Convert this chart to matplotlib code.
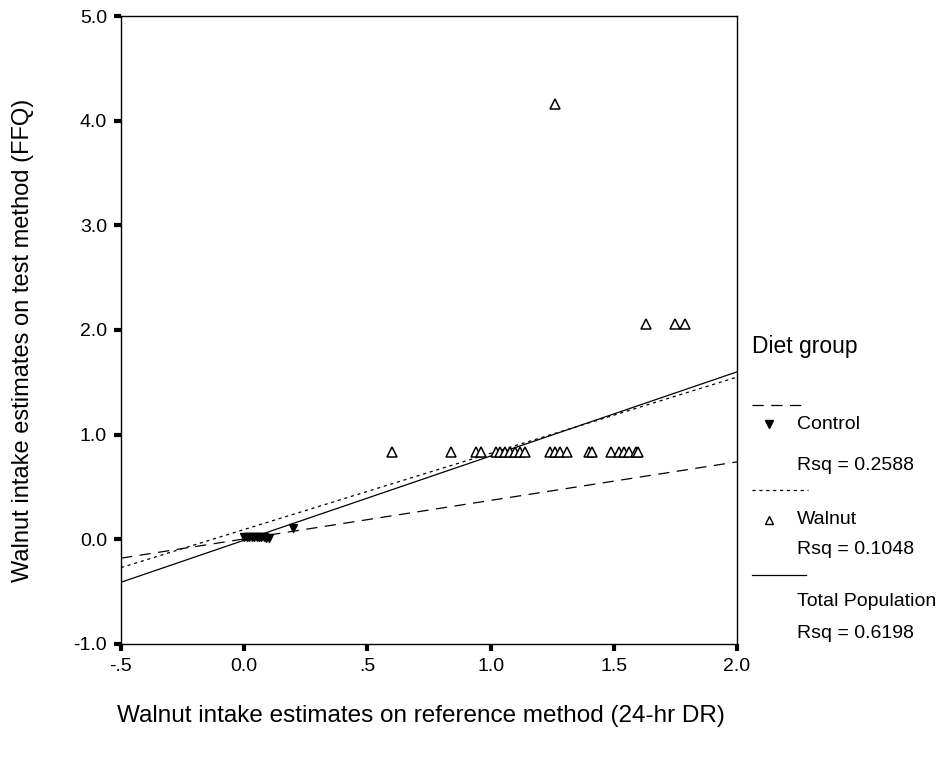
#!/usr/bin/env python3
"""Walnut intake: FFQ vs 24-hr dietary recall, with group fit lines."""

import numpy as np
import matplotlib
matplotlib.use('Agg')
import matplotlib.pyplot as plt
from matplotlib.lines import Line2D

plt.rcParams['font.family'] = ['Liberation Sans', 'DejaVu Sans']

# Control group (24-hr DR, FFQ)
control_x = [0.00, 0.01, 0.02, 0.03, 0.04, 0.05, 0.06, 0.07, 0.08, 0.09, 0.10, 0.20]
control_y = [0.02, 0.02, 0.02, 0.02, 0.02, 0.02, 0.02, 0.02, 0.02, 0.01, 0.01, 0.11]

# Walnut group
walnut_x = [0.60, 0.84, 0.94, 0.96, 1.02, 1.04, 1.06, 1.08, 1.10, 1.12, 1.14,
            1.24, 1.26, 1.28, 1.31, 1.40, 1.41, 1.49, 1.52, 1.54, 1.56, 1.59,
            1.60, 1.26, 1.63, 1.75, 1.79]
walnut_y = [0.83] * 23 + [4.16, 2.06, 2.06, 2.06]

# fitted lines: (intercept, slope)
fit_control = (0.004, 0.368)
fit_walnut = (0.094, 0.728)
fit_total = (-0.008, 0.804)

group_names = ['Control', 'Walnut']
rsq_labels = ['Rsq = 0.2588', 'Rsq = 0.1048', 'Rsq = 0.6198']

xticks = [-0.5, 0.0, 0.5, 1.0, 1.5, 2.0]
xticklabels = ['-.5', '0.0', '.5', '1.0', '1.5', '2.0']
yticks = [-1.0, 0.0, 1.0, 2.0, 3.0, 4.0, 5.0]
yticklabels = ['-1.0', '0.0', '1.0', '2.0', '3.0', '4.0', '5.0']

W, H = 939, 757
fig = plt.figure(figsize=(W / 100, H / 100), dpi=100)
ax = fig.add_axes([121 / W, 1 - 644 / H, (737 - 121) / W, (644 - 16) / H])

dash_long = (0, (9, 6))
dash_dot = (0, (2.5, 3))

xs = np.array([-0.5, 2.0])
ax.plot(xs, fit_control[0] + fit_control[1] * xs, color='black', lw=0.9, ls=dash_long)
ax.plot(xs, fit_walnut[0] + fit_walnut[1] * xs, color='black', lw=0.9, ls=dash_dot)
ax.plot(xs, fit_total[0] + fit_total[1] * xs, color='black', lw=0.9, ls='-')

ax.plot(walnut_x, walnut_y, ls='none', marker='^', ms=7, mfc='white',
        mec='black', mew=1.1)
ax.plot(control_x, control_y, ls='none', marker='v', ms=5.5, mfc='black',
        mec='black')

ax.set_xlim(-0.5, 2.0)
ax.set_ylim(-1.0, 5.0)
ax.set_xticks(xticks)
ax.set_xticklabels(xticklabels)
ax.set_yticks(yticks)
ax.set_yticklabels(yticklabels)
ax.tick_params(direction='out', length=5, width=3, labelsize=14, pad=5)
for s in ax.spines.values():
    s.set_linewidth(1.0)

fig.text(23 / W, 1 - 340 / H, 'Walnut intake estimates on test method (FFQ)',
         rotation=90, ha='center', va='center', fontsize=17)
fig.text(421 / W, 1 - 716 / H, 'Walnut intake estimates on reference method (24-hr DR)',
         ha='center', va='center', fontsize=17.5)


# legend drawn in figure pixel space
def fx(px):
    return px / W


def fy(py):
    return 1 - py / H


fig.text(fx(752), fy(346), 'Diet group', ha='left', va='center', fontsize=16.5)

row_styles = [dash_long, dash_dot]
row_markers = [('v', 'black'), ('^', 'white')]
line_y = [405, 490]
name_y = [424, 520]
rsq_y = [465, 550]
for i in range(2):
    fig.add_artist(Line2D([fx(752), fx(808)], [fy(line_y[i])] * 2, color='black',
                          lw=0.9, ls=row_styles[i], transform=fig.transFigure))
    mk, fc = row_markers[i]
    fig.add_artist(Line2D([fx(769)], [fy(name_y[i])], ls='none', marker=mk, ms=5.5,
                          mfc=fc, mec='black', transform=fig.transFigure))
    fig.text(fx(797), fy(name_y[i]), group_names[i], ha='left', va='center', fontsize=14)
    fig.text(fx(797), fy(rsq_y[i]), rsq_labels[i], ha='left', va='center', fontsize=14)

fig.add_artist(Line2D([fx(752), fx(806)], [fy(575)] * 2, color='black',
                      lw=0.9, transform=fig.transFigure))
fig.text(fx(797), fy(601), 'Total Population', ha='left', va='center', fontsize=14)
fig.text(fx(797), fy(634), rsq_labels[2], ha='left', va='center', fontsize=14)

fig.savefig('out.png', dpi=100)
